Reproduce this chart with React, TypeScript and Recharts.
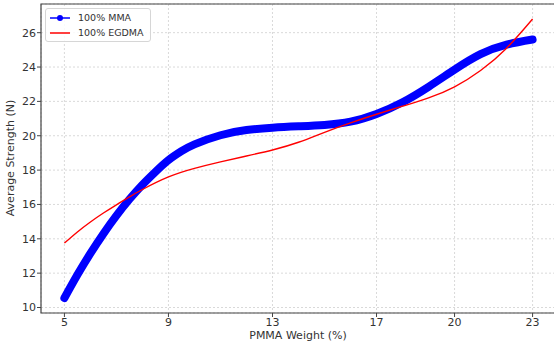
import React from "react"
import {
  LineChart,
  Line,
  XAxis,
  YAxis,
  CartesianGrid,
  Legend,
  ReferenceArea,
  Label,
} from "recharts"

// PMMA weight (%) -> average strength (N)
const mmaWeight = [5, 5.5, 6, 6.5, 7, 7.5, 8, 8.5, 9, 9.5, 10, 11, 12, 13, 14, 15, 16, 17, 18, 19, 20, 21, 22, 23]
const mmaStrength = [10.55, 11.9, 13.15, 14.3, 15.35, 16.3, 17.15, 17.9, 18.58, 19.1, 19.5, 20.03, 20.33, 20.47, 20.55, 20.63, 20.82, 21.27, 21.95, 22.85, 23.85, 24.75, 25.3, 25.6]

const egdmaWeight = [5, 5.5, 6, 6.5, 7, 7.5, 8, 9, 10, 11, 12, 13, 14, 15, 16, 17, 18, 19, 20, 21, 22, 23]
const egdmaStrength = [13.75, 14.4, 14.98, 15.5, 15.98, 16.44, 16.87, 17.6, 18.1, 18.48, 18.82, 19.17, 19.62, 20.2, 20.75, 21.25, 21.72, 22.2, 22.85, 23.8, 25.1, 26.8]

const xTicks = [5, 9, 13, 17, 20, 23]
const yTicks = [10, 12, 14, 16, 18, 20, 22, 24, 26]

const mmaData = mmaWeight.map((x, i) => ({ x, y: mmaStrength[i] }))
const egdmaData = egdmaWeight.map((x, i) => ({ x, y: egdmaStrength[i] }))

const FONT = "DejaVu Sans, sans-serif"
const TEXT = "#333"

function LegendBox() {
  const row = { display: "flex", alignItems: "center", height: 15 }
  return (
    <div
      style={{
        background: "rgba(255,255,255,0.85)",
        border: "1px solid #d6d6d6",
        borderRadius: 3,
        padding: "1px 6px 1px 3px",
        fontFamily: FONT,
        fontSize: 9.5,
        color: TEXT,
      }}
    >
      <div style={row}>
        <svg width={26} height={10}>
          <line x1={1} y1={5} x2={21} y2={5} stroke="#0000ff" strokeWidth={1.5} />
          <circle cx={11} cy={5} r={3} fill="#0000ff" />
        </svg>
        <span style={{ marginLeft: 3 }}>100% MMA</span>
      </div>
      <div style={row}>
        <svg width={26} height={10}>
          <line x1={1} y1={5} x2={21} y2={5} stroke="#ff0000" strokeWidth={1.5} />
        </svg>
        <span style={{ marginLeft: 3 }}>100% EGDMA</span>
      </div>
    </div>
  )
}

export default function App() {
  return (
    <div style={{ position: "absolute", left: 0, top: 0, width: 554, height: 345, overflow: "hidden", background: "#fff" }}>
      <LineChart width={560} height={345} margin={{ top: 4, right: 4, bottom: 0, left: 0 }}>
        <CartesianGrid stroke="#cfcfcf" strokeDasharray="2 2" strokeWidth={0.8} />
        <XAxis
          type="number"
          dataKey="x"
          domain={[4.1, 23.9]}
          ticks={xTicks}
          allowDataOverflow
          height={32}
          axisLine={false}
          tickSize={4}
          tickMargin={1}
          tickLine={{ stroke: "#444" }}
          tick={{ fill: TEXT, fontSize: 11, fontFamily: FONT }}
        >
          <Label
            content={() => (
              <text x={298} y={339} textAnchor="middle" fill={TEXT} fontSize={11} fontFamily={FONT}>
                PMMA Weight (%)
              </text>
            )}
          />
        </XAxis>
        <YAxis
          type="number"
          dataKey="y"
          domain={[9.68, 27.67]}
          ticks={yTicks}
          allowDataOverflow
          width={41}
          axisLine={false}
          tickSize={4}
          tickMargin={1}
          tickLine={{ stroke: "#444" }}
          tick={{ fill: TEXT, fontSize: 11, fontFamily: FONT }}
        >
          <Label
            content={() => (
              <text
                x={14}
                y={158}
                transform="rotate(-90 14 158)"
                textAnchor="middle"
                fill={TEXT}
                fontSize={11}
                fontFamily={FONT}
              >
                Average Strength (N)
              </text>
            )}
          />
        </YAxis>
        <ReferenceArea x1={4.1} x2={23.9} y1={9.68} y2={27.67} fill="none" stroke="#444" strokeWidth={1.2} />
        <Legend
          layout="vertical"
          align="center"
          verticalAlign="middle"
          wrapperStyle={{ left: 45, top: 8, width: "auto", height: "auto" }}
          content={() => <LegendBox />}
        />
        <Line
          data={mmaData}
          dataKey="y"
          type="natural"
          stroke="#0000ff"
          strokeWidth={8}
          strokeLinecap="round"
          dot={false}
          isAnimationActive={false}
        />
        <Line
          data={egdmaData}
          dataKey="y"
          type="natural"
          stroke="#ff0000"
          strokeWidth={1.4}
          dot={false}
          isAnimationActive={false}
        />
      </LineChart>
    </div>
  )
}
